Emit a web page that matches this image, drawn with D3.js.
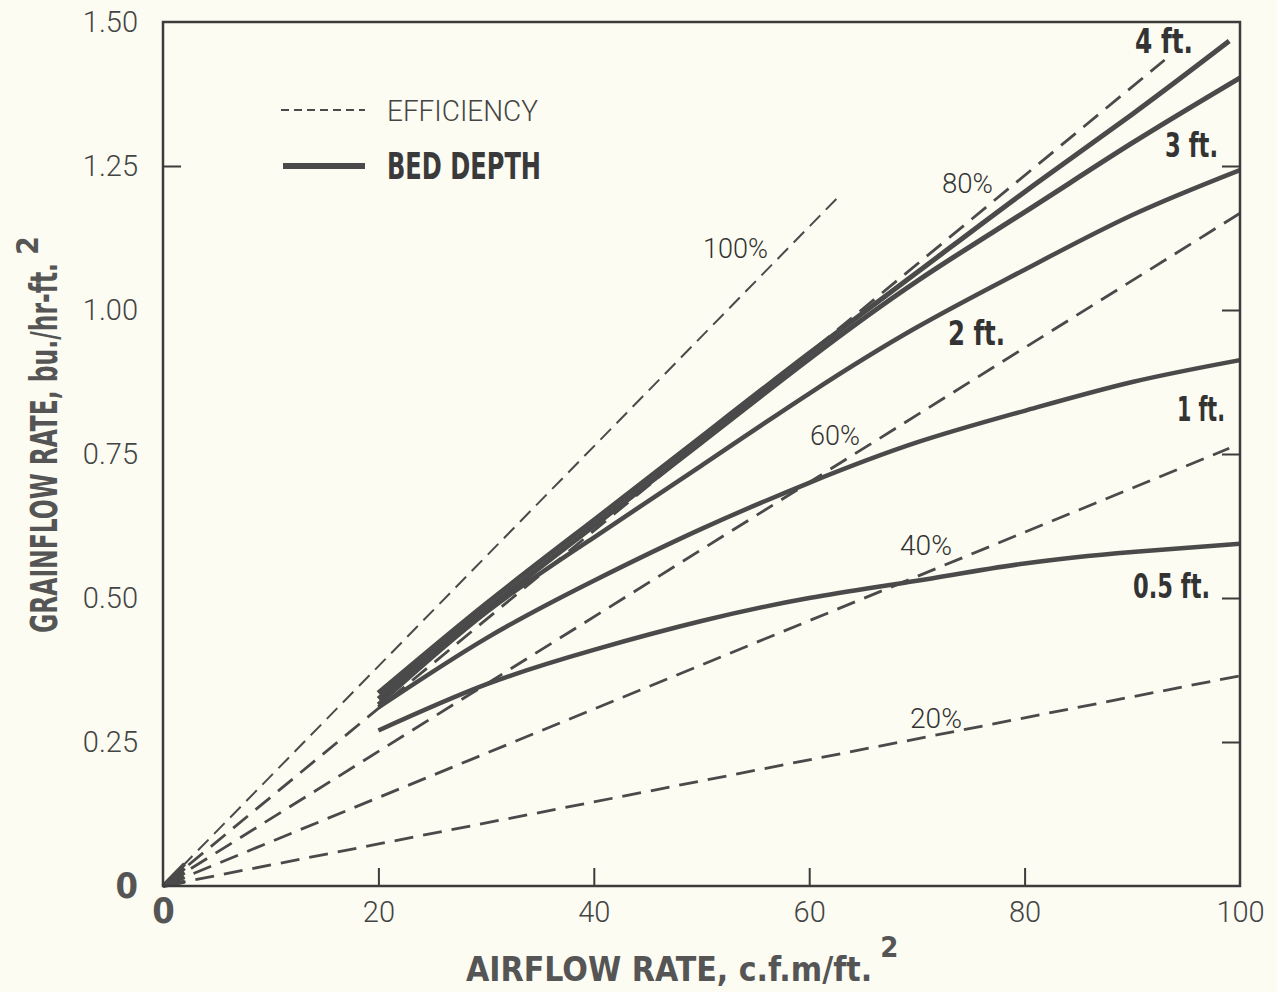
<!DOCTYPE html>
<html>
<head>
<meta charset="utf-8">
<script src="https://cdn.jsdelivr.net/npm/d3@7/dist/d3.min.js"></script>
<style>
  html, body { margin: 0; padding: 0; background: #fcfcf2; }
  svg { display: block; }
</style>
</head>
<body>
<svg id="chart" width="1277" height="992"></svg>
<script>
// ---------- data ----------
const xTicks = [0, 20, 40, 60, 80, 100];
const xTickLabels = ["0", "20", "40", "60", "80", "100"];
const yTicks = [0, 0.25, 0.5, 0.75, 1.0, 1.25, 1.5];
const yTickLabels = ["0", "0.25", "0.50", "0.75", "1.00", "1.25", "1.50"];

const bedDepths = ["4 ft.", "3 ft.", "2 ft.", "1 ft.", "0.5 ft."];
const airflow = [20, 30, 40, 50, 60, 70, 80, 90, 100];
const airflow4 = [20, 30, 40, 50, 60, 70, 80, 90, 99];
const grain4ft  = [0.335, 0.49, 0.635, 0.78, 0.925, 1.065, 1.205, 1.34, 1.467];
const grain3ft  = [0.325, 0.48, 0.625, 0.77, 0.915, 1.05, 1.17, 1.29, 1.403];
const grain2ft  = [0.315, 0.475, 0.605, 0.73, 0.855, 0.97, 1.07, 1.165, 1.243];
const grain1ft  = [0.31, 0.43, 0.53, 0.62, 0.70, 0.77, 0.825, 0.875, 0.913];
const grain05ft = [0.27, 0.35, 0.41, 0.46, 0.50, 0.53, 0.56, 0.58, 0.594];

const efficiencies = ["100%", "80%", "60%", "40%", "20%"];
const effEndX = [62.9, 93.0, 100, 99, 100];
const effEndY = [1.20, 1.434, 1.168, 0.76, 0.365];

// label anchors (data units)
const depthLabelX = [90.25, 93.04, 72.89, 94.15, 90.07];
const depthLabelY = [1.446, 1.266, 0.939, 0.807, 0.50];
const depthLabelW = [58, 53, 57, 48, 77];
const effLabelX = [50.14, 72.33, 60.07, 68.43, 69.36];
const effLabelY = [1.090, 1.203, 0.766, 0.575, 0.274];
const effLabelW = [65, 51, 50, 52, 52];

// ---------- layout ----------
const svg = d3.select("#chart");
const L = 163, R = 1240, T = 22, B = 886;
const x = d3.scaleLinear().domain([0, 100]).range([L, R]);
const y = d3.scaleLinear().domain([0, 1.5]).range([B, T]);

const ink = "#3c3c3c";
const curveInk = "#4a4a4a";
const lightFont = "Roboto, 'Open Sans', sans-serif";
const boldFont = "'Liberation Sans Narrow', 'DejaVu Sans Condensed', Roboto, sans-serif";

// ---------- efficiency lines ----------
const effG = svg.append("g");
efficiencies.forEach((e, i) => {
  const w = i === 0 ? 2 : 2.8;
  effG.append("line")
    .attr("x1", x(0)).attr("y1", y(0))
    .attr("x2", x(effEndX[i])).attr("y2", y(effEndY[i]))
    .attr("stroke", curveInk).attr("stroke-width", w)
    .attr("stroke-dasharray", i === 0 ? "15,8" : "19,10")
    .attr("stroke-dashoffset", -4);
  // solid convergence near origin
  const f = 2.0 / effEndX[i];
  effG.append("line")
    .attr("x1", x(0)).attr("y1", y(0))
    .attr("x2", x(effEndX[i] * f)).attr("y2", y(effEndY[i] * f))
    .attr("stroke", curveInk).attr("stroke-width", 4);
});

// ---------- bed depth curves ----------
const series = [
  { xs: airflow4, ys: grain4ft, w: 5 },
  { xs: airflow, ys: grain3ft, w: 5 },
  { xs: airflow, ys: grain2ft, w: 4.5 },
  { xs: airflow, ys: grain1ft, w: 4.5 },
  { xs: airflow, ys: grain05ft, w: 4.5 }
];
const line = d3.line().x(d => x(d[0])).y(d => y(d[1])).curve(d3.curveNatural);
series.forEach(s => {
  svg.append("path")
    .attr("d", line(s.xs.map((v, j) => [v, s.ys[j]])))
    .attr("fill", "none").attr("stroke", curveInk)
    .attr("stroke-width", s.w).attr("stroke-linecap", "butt");
});

// ---------- frame ----------
svg.append("rect")
  .attr("x", L).attr("y", T).attr("width", R - L).attr("height", B - T)
  .attr("fill", "none").attr("stroke", ink).attr("stroke-width", 2.5);

// inward ticks
const xTickAxis = d3.axisBottom(x).tickValues(xTicks.slice(1, 5)).tickSize(-18).tickFormat("");
svg.append("g").attr("transform", `translate(0,${B})`).call(xTickAxis)
  .call(g => g.select(".domain").remove())
  .call(g => g.selectAll("line").attr("stroke", ink).attr("stroke-width", 2));

const yLeftTicks = d3.axisLeft(y).tickValues([1.25]).tickSize(-18).tickFormat("");
svg.append("g").attr("transform", `translate(${L},0)`).call(yLeftTicks)
  .call(g => g.select(".domain").remove())
  .call(g => g.selectAll("line").attr("stroke", ink).attr("stroke-width", 2));

const yRightTicks = d3.axisRight(y).tickValues(yTicks.slice(1, 6)).tickSize(-18).tickFormat("");
svg.append("g").attr("transform", `translate(${R},0)`).call(yRightTicks)
  .call(g => g.select(".domain").remove())
  .call(g => g.selectAll("line").attr("stroke", ink).attr("stroke-width", 2));

// tick labels
const xLab = d3.axisBottom(x).tickValues(xTicks).tickSize(0).tickPadding(15)
  .tickFormat((d, i) => xTickLabels[i]);
svg.append("g").attr("transform", `translate(0,${B})`).call(xLab)
  .call(g => g.select(".domain").remove())
  .call(g => g.selectAll("text")
    .attr("fill", "#444").attr("font-family", lightFont).attr("font-weight", 300)
    .attr("font-size", 29))
  .call(g => g.selectAll("text").filter(d => d === 0)
    .attr("font-family", boldFont).attr("font-weight", 700).attr("font-size", 36)
    .attr("dy", "0.62em").attr("fill", "#555"));

const yLab = d3.axisLeft(y).tickValues(yTicks).tickSize(0).tickPadding(25)
  .tickFormat((d, i) => yTickLabels[i]);
svg.append("g").attr("transform", `translate(${L},0)`).call(yLab)
  .call(g => g.select(".domain").remove())
  .call(g => g.selectAll("text")
    .attr("fill", "#444").attr("font-family", lightFont).attr("font-weight", 300)
    .attr("font-size", 29))
  .call(g => g.selectAll("text").filter(d => d === 0)
    .attr("font-family", boldFont).attr("font-weight", 700).attr("font-size", 36)
    .attr("fill", "#555"));

// ---------- labels ----------
bedDepths.forEach((t, i) => {
  svg.append("text")
    .attr("x", x(depthLabelX[i])).attr("y", y(depthLabelY[i]))
    .attr("font-family", boldFont).attr("font-weight", 700).attr("font-size", 34)
    .attr("fill", "#333")
    .attr("textLength", depthLabelW[i]).attr("lengthAdjust", "spacingAndGlyphs")
    .text(t);
});
efficiencies.forEach((t, i) => {
  svg.append("text")
    .attr("x", x(effLabelX[i])).attr("y", y(effLabelY[i]))
    .attr("font-family", lightFont).attr("font-weight", 300).attr("font-size", 28)
    .attr("fill", "#333")
    .attr("textLength", effLabelW[i]).attr("lengthAdjust", "spacingAndGlyphs")
    .text(t);
});

// ---------- legend ----------
svg.append("line").attr("x1", 281).attr("x2", 365).attr("y1", 110).attr("y2", 110)
  .attr("stroke", curveInk).attr("stroke-width", 2).attr("stroke-dasharray", "8,5");
svg.append("text").attr("x", 387).attr("y", 121)
  .attr("font-family", lightFont).attr("font-weight", 300).attr("font-size", 29)
  .attr("fill", "#444").attr("textLength", 151).attr("lengthAdjust", "spacingAndGlyphs")
  .text("EFFICIENCY");
svg.append("line").attr("x1", 283).attr("x2", 365).attr("y1", 166).attr("y2", 166)
  .attr("stroke", curveInk).attr("stroke-width", 6);
svg.append("text").attr("x", 387).attr("y", 179)
  .attr("font-family", boldFont).attr("font-weight", 700).attr("font-size", 38)
  .attr("fill", "#3a3a3a").attr("textLength", 154).attr("lengthAdjust", "spacingAndGlyphs")
  .text("BED DEPTH");

// ---------- axis titles (main text + superscript in one text element) ----------
const xTitle = svg.append("text").attr("x", 466).attr("y", 981)
  .attr("font-family", boldFont).attr("font-weight", 700).attr("font-size", 33.5)
  .attr("fill", "#555");
xTitle.append("tspan").text("AIRFLOW RATE, c.f.m/ft.");
xTitle.append("tspan").attr("dx", 8).attr("dy", -24).attr("font-size", 29).text("2");

const yTitle = svg.append("text")
  .attr("transform", "translate(57,633) rotate(-90)")
  .attr("font-family", boldFont).attr("font-weight", 700).attr("font-size", 37)
  .attr("fill", "#555");
yTitle.append("tspan").attr("textLength", 370).attr("lengthAdjust", "spacingAndGlyphs")
  .text("GRAINFLOW RATE, bu./hr-ft.");
yTitle.append("tspan").attr("dx", 8).attr("dy", -19).attr("font-size", 30).text("2");
</script>
</body>
</html>
